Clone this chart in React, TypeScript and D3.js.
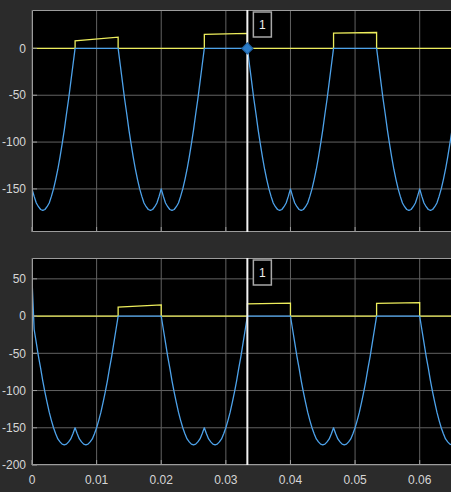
import React from 'react';
import * as d3 from 'd3';

// sample spacing of the two blue traces (seconds)
const SAMPLE_STEP = 1 / 3000;

// upper scope: blue trace
const topBlue = [
  -150, -158, -165, -169, -172, -173, -172, -169, -165, -158, -150, -140, -129, -116, -102, -87, -70, -54, -36, -18,
  0, 0, 0, 0, 0, 0, 0, 0, 0, 0, 0, 0, 0, 0, 0, 0, 0, 0, 0, 0, 0,
  -18, -36, -54, -70, -87, -102, -116, -129, -140, -150, -158, -165, -169, -172, -173, -172, -169, -165, -158,
  -150, -158, -165, -169, -172, -173, -172, -169, -165, -158, -150, -140, -129, -116, -102, -87, -70, -54, -36, -18,
  0, 0, 0, 0, 0, 0, 0, 0, 0, 0, 0, 0, 0, 0, 0, 0, 0, 0, 0, 0, 0,
  -18, -36, -54, -70, -87, -102, -116, -129, -140, -150, -158, -165, -169, -172, -173, -172, -169, -165, -158,
  -150, -158, -165, -169, -172, -173, -172, -169, -165, -158, -150, -140, -129, -116, -102, -87, -70, -54, -36, -18,
  0, 0, 0, 0, 0, 0, 0, 0, 0, 0, 0, 0, 0, 0, 0, 0, 0, 0, 0, 0, 0,
  -18, -36, -54, -70, -87, -102, -116, -129, -140, -150, -158, -165, -169, -172, -173, -172, -169, -165, -158,
  -150, -158, -165, -169, -172, -173, -172, -169, -165, -158, -150, -140, -129, -116, -102, -87,
];

// lower scope: blue trace
const bottomBlue = [
  50, -18, -36, -54, -70, -87, -102, -116, -129, -140, -150, -158, -165, -169, -172, -173, -172, -169, -165, -158,
  -150, -158, -165, -169, -172, -173, -172, -169, -165, -158, -150, -140, -129, -116, -102, -87, -70, -54, -36, -18,
  0, 0, 0, 0, 0, 0, 0, 0, 0, 0, 0, 0, 0, 0, 0, 0, 0, 0, 0, 0, 0,
  -18, -36, -54, -70, -87, -102, -116, -129, -140, -150, -158, -165, -169, -172, -173, -172, -169, -165, -158,
  -150, -158, -165, -169, -172, -173, -172, -169, -165, -158, -150, -140, -129, -116, -102, -87, -70, -54, -36, -18,
  0, 0, 0, 0, 0, 0, 0, 0, 0, 0, 0, 0, 0, 0, 0, 0, 0, 0, 0, 0, 0,
  -18, -36, -54, -70, -87, -102, -116, -129, -140, -150, -158, -165, -169, -172, -173, -172, -169, -165, -158,
  -150, -158, -165, -169, -172, -173, -172, -169, -165, -158, -150, -140, -129, -116, -102, -87, -70, -54, -36, -18,
  0, 0, 0, 0, 0, 0, 0, 0, 0, 0, 0, 0, 0, 0, 0, 0, 0, 0, 0, 0, 0,
  -18, -36, -54, -70, -87, -102, -116, -129, -140, -150, -158, -165, -169, -172, -173,
];

// yellow traces: zero except during the conduction pulses
const topPulseStart = [0.00667, 0.02667, 0.04667];
const topPulseEnd = [0.01333, 0.03333, 0.05333];
const topPulseFrom = [8, 15, 16.3];
const topPulseTo = [12, 16, 17];

const bottomPulseStart = [0.01333, 0.03333, 0.05333];
const bottomPulseEnd = [0.02, 0.04, 0.06];
const bottomPulseFrom = [12, 16.5, 17];
const bottomPulseTo = [15, 17.5, 18];

const xTicks = [0, 0.01, 0.02, 0.03, 0.04, 0.05, 0.06];
const xTickLabels = ['0', '0.01', '0.02', '0.03', '0.04', '0.05', '0.06'];
const topYTicks = [0, -50, -100, -150];
const bottomYTicks = [50, 0, -50, -100, -150, -200];

const cursorTime = 0.03333;
const cursorLabel = '1';

const W = 451;
const H = 492;
const BG = '#2b2b2b';
const GRID = '#626262';
const BORDER = '#9c9c9c';
const TEXT = '#d6d6d6';
const YELLOW = '#eded5c';
const BLUE = '#4da2ea';

type Pt = [number, number];

function pulseTrace(starts: number[], ends: number[], from: number[], to: number[], tMax: number): Pt[] {
  const pts: Pt[] = [[0, 0]];
  starts.forEach((s, i) => {
    pts.push([s, 0], [s, from[i]], [ends[i], to[i]], [ends[i], 0]);
  });
  pts.push([tMax, 0]);
  return pts;
}

function Panel({ id, top, bottom, yDomain, yTicks, blue, pulses, showMarker, showXLabels }: any) {
  const left = 32;
  const x = d3.scaleLinear().domain([0, 0.065]).range([left, 452]);
  const y = d3.scaleLinear().domain(yDomain).range([bottom, top]);
  const line = d3.line<Pt>().x(d => x(d[0])).y(d => y(d[1]));

  const bluePts: Pt[] = blue.map((v: number, i: number) => [i * SAMPLE_STEP, v]);
  const yellowPts = pulseTrace(pulses[0], pulses[1], pulses[2], pulses[3], 0.065);
  const cx = x(cursorTime);
  const clip = `clip-${id}`;

  return (
    <g>
      <defs>
        <clipPath id={clip}>
          <rect x={left} y={top} width={452 - left} height={bottom - top} />
        </clipPath>
      </defs>
      <rect x={left} y={top} width={452 - left} height={bottom - top} fill="#000" />
      {xTicks.map(t => (
        <line key={'gx' + t} x1={x(t)} x2={x(t)} y1={top} y2={bottom} stroke={GRID} strokeWidth={1} />
      ))}
      {yTicks.map((t: number) => (
        <line key={'gy' + t} x1={left} x2={452} y1={y(t)} y2={y(t)} stroke={GRID} strokeWidth={1} />
      ))}
      <g clipPath={`url(#${clip})`}>
        <path d={line(yellowPts) || ''} fill="none" stroke={YELLOW} strokeWidth={1.3} />
        <path d={line(bluePts) || ''} fill="none" stroke={BLUE} strokeWidth={1.3} strokeLinejoin="round" />
      </g>
      {/* ticks */}
      {yTicks.map((t: number) => (
        <line key={'ty' + t} x1={left} x2={left + 5} y1={y(t)} y2={y(t)} stroke={BORDER} strokeWidth={1} />
      ))}
      {xTicks.map(t => (
        <line key={'tx' + t} x1={x(t)} x2={x(t)} y1={bottom} y2={bottom - 5} stroke={BORDER} strokeWidth={1} />
      ))}
      <path d={`M452,${top + 0.5}H${left + 0.5}V${bottom - 0.5}H452`} fill="none" stroke={BORDER} strokeWidth={1} />
      {yTicks.map((t: number) => (
        <text key={'ly' + t} x={26} y={y(t)} dy="0.35em" textAnchor="end" fill={TEXT}
          fontFamily="Liberation Sans, Arial, sans-serif" fontSize={12}>{t}</text>
      ))}
      {showXLabels && xTicks.map((t, i) => (
        <text key={'lx' + t} x={x(t)} y={bottom + 15} dy="0.35em" textAnchor="middle" fill={TEXT}
          fontFamily="Liberation Sans, Arial, sans-serif" fontSize={12}>{xTickLabels[i]}</text>
      ))}
      {/* cursor */}
      <line x1={cx} x2={cx} y1={top} y2={bottom} stroke="#f2f2f2" strokeWidth={2} />
      <rect x={cx + 6} y={top + 2} width={18} height={25} fill="#000" stroke="#a8a8a8" strokeWidth={1.5} />
      <text x={cx + 15} y={top + 15} dy="0.35em" textAnchor="middle" fill="#eeeeee"
        fontFamily="Liberation Sans, Arial, sans-serif" fontSize={12}>{cursorLabel}</text>
      {showMarker && (
        <path d={d3.symbol(d3.symbolSquare, 64)() || ''}
          transform={`translate(${cx},${y(0)}) rotate(45)`} fill="#2c7cc8" stroke="#1d5f9e" strokeWidth={1} />
      )}
    </g>
  );
}

export default function App() {
  return (
    <div style={{ position: 'fixed', left: 0, top: 0 }}>
      <svg width={W} height={H} style={{ display: 'block' }}>
        <rect width={W} height={H} fill={BG} />
        <Panel id="top" top={10} bottom={232} yDomain={[-196, 41]} yTicks={topYTicks} blue={topBlue}
          pulses={[topPulseStart, topPulseEnd, topPulseFrom, topPulseTo]} showMarker showXLabels={false} />
        <Panel id="bottom" top={258} bottom={465} yDomain={[-200, 78]} yTicks={bottomYTicks} blue={bottomBlue}
          pulses={[bottomPulseStart, bottomPulseEnd, bottomPulseFrom, bottomPulseTo]} showMarker={false} showXLabels />
      </svg>
    </div>
  );
}
